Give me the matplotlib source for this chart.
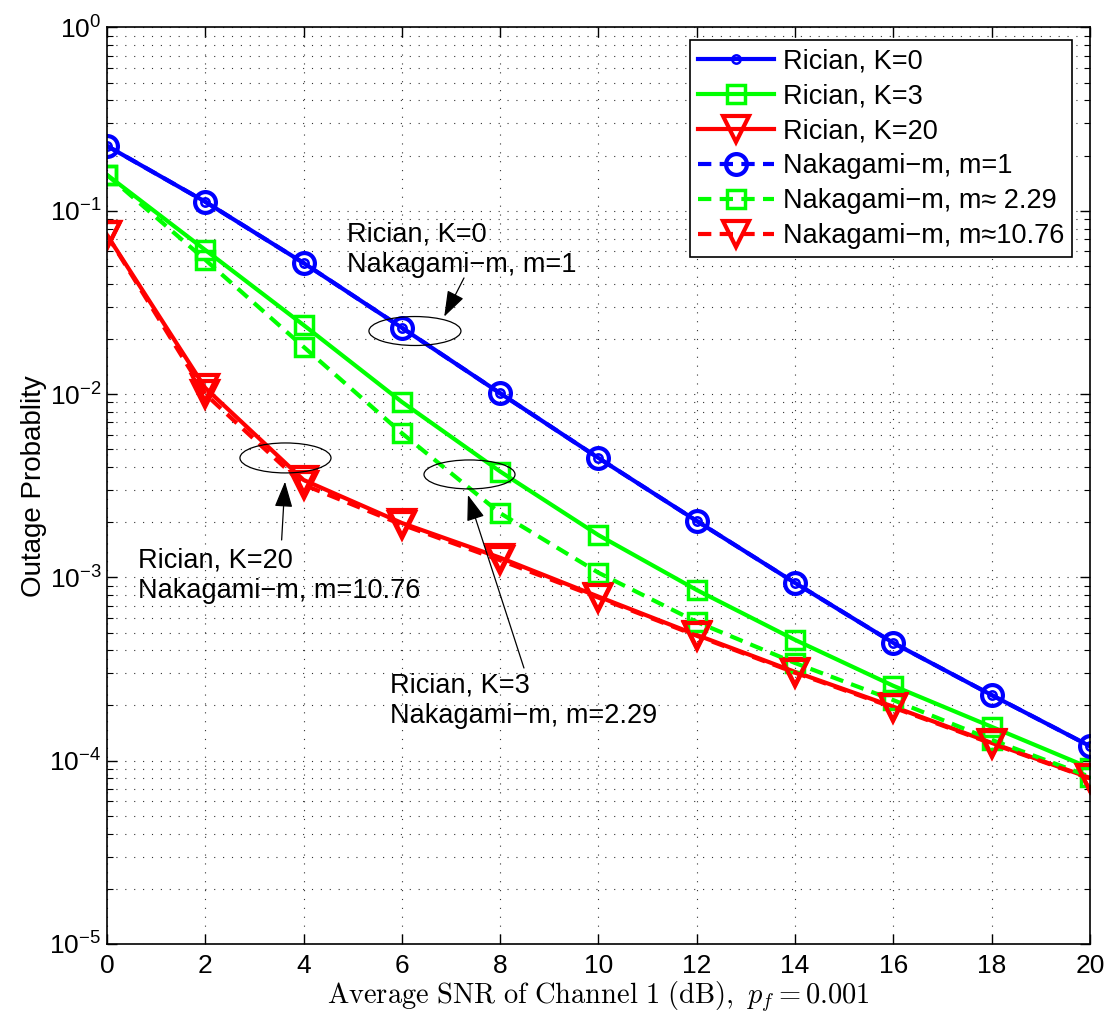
import numpy as np
import matplotlib
matplotlib.use('Agg')
import matplotlib.pyplot as plt
from matplotlib.patches import Ellipse

plt.rcParams['font.family'] = ['Liberation Sans', 'DejaVu Sans']
plt.rcParams['mathtext.fontset'] = 'cm'

# data
snr = [0, 2, 4, 6, 8, 10, 12, 14, 16, 18, 20]
rician_k0 = [0.226, 0.112, 0.0519, 0.0230, 0.0101, 0.00448, 0.00203, 0.000933, 0.000439, 0.000228, 0.000120]
naka_m1 = [0.226, 0.112, 0.0519, 0.0230, 0.0101, 0.00448, 0.00203, 0.000933, 0.000439, 0.000228, 0.000120]
rician_k3 = [0.157, 0.0611, 0.0238, 0.00906, 0.00378, 0.00170, 0.000853, 0.000456, 0.000256, 0.000153, 0.0000912]
naka_m229 = [0.157, 0.0540, 0.0181, 0.00612, 0.00224, 0.00106, 0.000571, 0.000341, 0.000214, 0.000130, 0.0000817]
rician_k20 = [0.0738, 0.0108, 0.0034, 0.00198, 0.00128, 0.000785, 0.000485, 0.000305, 0.000197, 0.000125, 0.0000805]
naka_m1076 = [0.0738, 0.0100, 0.0032, 0.00194, 0.00124, 0.000775, 0.000480, 0.000302, 0.000195, 0.000124, 0.0000800]

labels = ['Rician, K=0', 'Rician, K=3', 'Rician, K=20',
          'Nakagami\u2212m, m=1', 'Nakagami\u2212m, m\u2248 2.29', 'Nakagami\u2212m, m\u224810.76']

fig = plt.figure(figsize=(11.05, 10.17), dpi=100)
ax = fig.add_axes([0.0968, 0.0718, 0.8896, 0.9012])

lw = 3
dash = (0, (3.2, 2.0))
ax.semilogy(snr, rician_k0, '-', color='b', lw=lw, marker='o', ms=6, mfc='none', mew=1.8, label=labels[0])
ax.semilogy(snr, rician_k3, '-', color=(0, 1, 0), lw=lw, marker='s', ms=12.5, mfc='none', mew=2.5, label=labels[1])
ax.semilogy(snr, rician_k20, '-', color='r', lw=lw, marker='v', ms=19, mfc='none', mew=3, label=labels[2])
ax.semilogy(snr, naka_m1, linestyle=dash, color='b', lw=lw, marker='o', ms=15, mfc='none', mew=3, label=labels[3])
ax.semilogy(snr, naka_m229, linestyle=dash, color=(0, 1, 0), lw=lw, marker='s', ms=12.5, mfc='none', mew=2.5, label=labels[4])
ax.semilogy(snr, naka_m1076, linestyle=dash, color='r', lw=lw, marker='v', ms=19, mfc='none', mew=3, label=labels[5])

ax.set_xlim(0, 20)
ax.set_ylim(1e-5, 1)
ax.set_xticks(np.arange(0, 21, 2))
ax.minorticks_on()
ax.xaxis.set_minor_locator(matplotlib.ticker.NullLocator())

grid_ls = (0, (1, 7))
ax.grid(True, which='major', axis='both', color='0.2', linestyle=grid_ls, lw=0.8)
ax.grid(True, which='minor', axis='y', color='0.2', linestyle=grid_ls, lw=0.8)

ax.tick_params(which='both', direction='in', top=True, right=True, labelsize=19)
ax.tick_params(which='major', length=7, width=1)
ax.tick_params(which='minor', length=4, width=0.8)
ax.tick_params(axis='x', pad=7)
ax.tick_params(axis='y', pad=4)
for s in ax.spines.values():
    s.set_linewidth(1.2)

ax.set_ylabel('Outage Probablity', fontsize=20, labelpad=2)
ax.set_xlabel(r'$\mathrm{Average\ SNR\ of\ Channel\ 1\ (dB)},\ p_f = 0.001$', fontsize=20.5, labelpad=1)

leg = ax.legend(loc='upper right', bbox_to_anchor=(0.982, 0.986), borderaxespad=0,
                fontsize=19.5, handlelength=2.8, handletextpad=0.33, labelspacing=0.33,
                borderpad=0.3, fancybox=False, framealpha=1, edgecolor='k')
leg.get_frame().set_linewidth(1.2)

# annotation ellipses (axes fraction)
for cx, cy, w, h in [(0.3133, 0.6688, 0.0936, 0.0316),
                     (0.1816, 0.5303, 0.0926, 0.0327),
                     (0.3688, 0.5123, 0.0926, 0.0316)]:
    ax.add_patch(Ellipse((cx, cy), w, h, transform=ax.transAxes, fill=False, ec='k', lw=0.9, zorder=5))

arrow = dict(arrowstyle='-|>,head_length=0.8,head_width=0.28', color='k', lw=0.9,
             shrinkA=0, shrinkB=0, mutation_scale=20)
ax.annotate('', xy=(0.3431, 0.6845), xytext=(0.3632, 0.7267), xycoords='axes fraction', arrowprops=arrow)
ax.annotate('', xy=(0.1811, 0.5044), xytext=(0.1777, 0.4408), xycoords='axes fraction', arrowprops=arrow)
ax.annotate('', xy=(0.3672, 0.4899), xytext=(0.4242, 0.3011), xycoords='axes fraction', arrowprops=arrow)

ax.text(0.2442, 0.7881, 'Rician, K=0\nNakagami\u2212m, m=1', transform=ax.transAxes,
        fontsize=19.5, va='top', ha='left')
ax.text(0.0315, 0.4321, 'Rician, K=20\nNakagami\u2212m, m=10.76', transform=ax.transAxes,
        fontsize=19.5, va='top', ha='left')
ax.text(0.2879, 0.2957, 'Rician, K=3\nNakagami\u2212m, m=2.29', transform=ax.transAxes,
        fontsize=19.5, va='top', ha='left')

fig.savefig('out.png', dpi=100)
